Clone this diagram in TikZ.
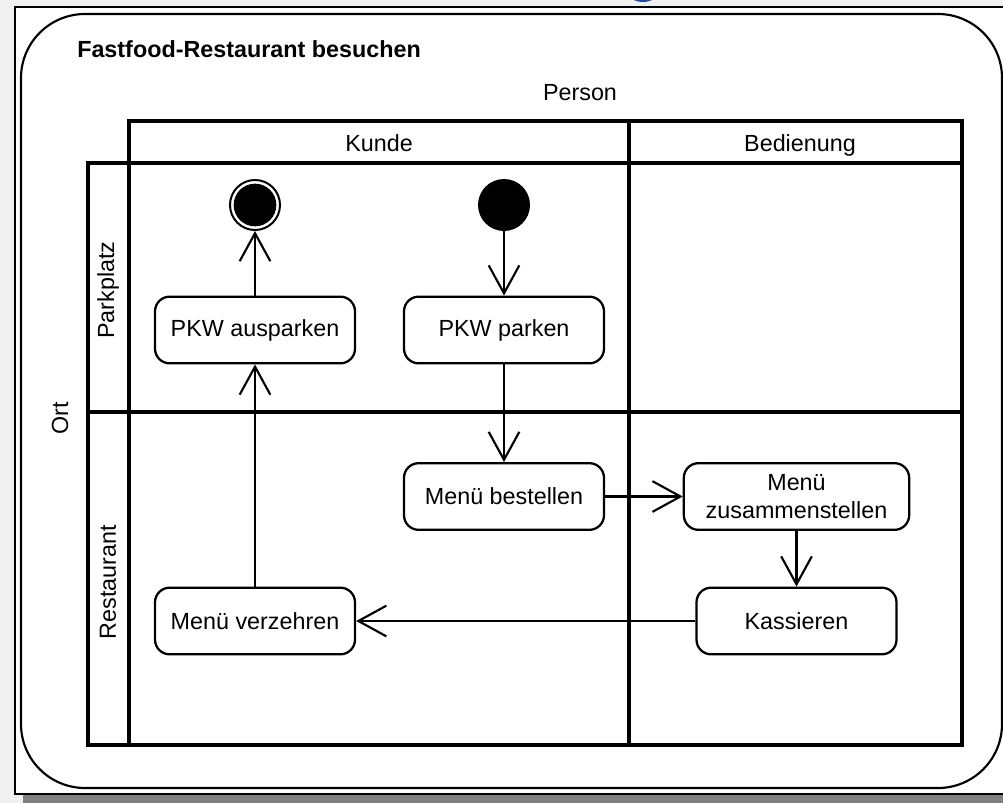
\documentclass[tikz,border=0pt]{standalone}
\usepackage{fontspec}
\setmainfont{Liberation Sans}
\usetikzlibrary{arrows.meta}
\definecolor{canvas}{HTML}{F0F0F0}
\definecolor{dropshadow}{HTML}{808080}
\definecolor{titleblue}{HTML}{1A4AA8}
\begin{document}
\begin{tikzpicture}[x=0.75pt,y=-0.75pt,
  font=\fontsize{17.5}{20.8}\selectfont,
  lane/.style={line width=3.2pt, line cap=rect},
  action/.style={draw, line width=1.7pt, rounded corners=11pt, fill=white,
    minimum width=150pt, minimum height=50pt, align=center, inner sep=2pt},
  flow/.style={line width=1.6pt,
    -{Straight Barb[length=21pt,width=23pt,line width=1.6pt]}},
  startnode/.style={circle, fill=black, inner sep=0pt, minimum size=39pt},
  endnode/.style={circle, draw, line width=1.5pt, fill=white, inner sep=0pt,
    minimum size=37.5pt,
    path picture={\fill[black] (path picture bounding box.center) circle (16pt);}},
  label/.style={inner sep=0pt},
]
\useasboundingbox (0,0) rectangle (1003,803);
% page background and framed sheet with its drop shadow
\fill[canvas] (0,0) rectangle (1003,803);
\begin{scope}
  \clip (0,0) rectangle (1003,7);
  \fill[titleblue] (643,-8) ellipse (15 and 10);
\end{scope}
\fill[dropshadow] (23,15) rectangle (1030,803);
\draw[fill=white, line width=1pt] (15,7) rectangle (1020,794);

% activity frame
\draw[line width=1.6pt, rounded corners=48pt] (21,14) rectangle (1002,788);
\node[label, anchor=base west, font=\fontsize{17.5}{20}\selectfont\bfseries] (title) at (77,57) {Fastfood-Restaurant besuchen};

% swimlane grid
\draw[lane] (129,121) rectangle (962,163);
\draw[lane] (88,163) rectangle (962,745);
\draw[lane] (129,163) -- (129,745);
\draw[lane] (629,121) -- (629,745);
\draw[lane] (88,412) -- (962,412);

% partition labels
\node[label, anchor=base] (person) at (580,100) {Person};
\node[label, anchor=base] (kunde) at (379,151.5) {Kunde};
\node[label, anchor=base] (bedienung) at (800,151.5) {Bedienung};
\node[label, rotate=90] (ort) at (60,418) {Ort};
\node[label, rotate=90] (parkplatz) at (108,290) {Parkplatz};
\node[label, rotate=90] (restaurant) at (108,582) {Restaurant};

% actions
\node[startnode] (start) at (504,205) {};
\node[endnode] (final) at (255,205) {};
\node[action] (ausparken) at (255,330) {PKW ausparken};
\node[action] (parken) at (504,330) {PKW parken};
\node[action] (bestellen) at (504,496.5) {Menü bestellen};
\node[action, minimum width=169pt] (zusammen) at (796.5,496.5) {Menü\\zusammenstellen};
\node[action] (kassieren) at (796.5,621) {Kassieren};
\node[action] (verzehren) at (255,621) {Menü verzehren};

% control flow
\draw[flow] (start) -- (parken);
\draw[flow] (parken) -- (bestellen);
\draw[flow] (bestellen) -- (zusammen);
\draw[flow] (zusammen) -- (kassieren);
\draw[flow] (kassieren) -- (verzehren);
\draw[flow] (verzehren) -- (ausparken);
\draw[flow] (ausparken) -- (final);
\end{tikzpicture}
\end{document}
